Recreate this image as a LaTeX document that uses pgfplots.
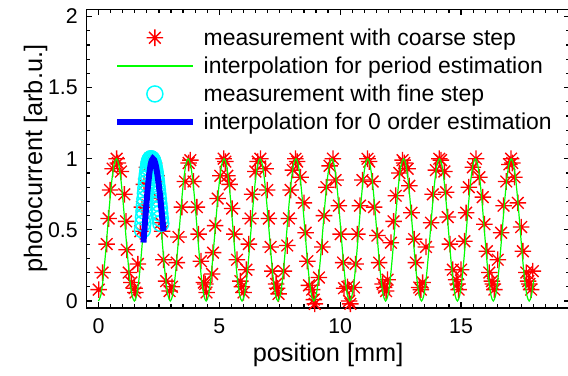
\documentclass[border=0pt]{standalone}
\usepackage{pgfplots}
\pgfplotsset{compat=1.18}
\usepackage{fontspec}
\setmainfont{Liberation Sans}

% eight-armed asterisk (plus and cross combined)
\pgfdeclareplotmark{mstar}{%
  \pgfpathmoveto{\pgfqpoint{-\pgfplotmarksize}{0pt}}%
  \pgfpathlineto{\pgfqpoint{\pgfplotmarksize}{0pt}}%
  \pgfpathmoveto{\pgfqpoint{0pt}{-\pgfplotmarksize}}%
  \pgfpathlineto{\pgfqpoint{0pt}{\pgfplotmarksize}}%
  \pgfpathmoveto{\pgfqpoint{-.7071\pgfplotmarksize}{-.7071\pgfplotmarksize}}%
  \pgfpathlineto{\pgfqpoint{.7071\pgfplotmarksize}{.7071\pgfplotmarksize}}%
  \pgfpathmoveto{\pgfqpoint{-.7071\pgfplotmarksize}{.7071\pgfplotmarksize}}%
  \pgfpathlineto{\pgfqpoint{.7071\pgfplotmarksize}{-.7071\pgfplotmarksize}}%
  \pgfusepathqstroke}

\definecolor{mred}{rgb}{1,0,0}
\definecolor{mgreen}{rgb}{0,1,0}
\definecolor{mcyan}{rgb}{0,1,1}
\definecolor{mblue}{rgb}{0,0,1}

\begin{document}
\begin{tikzpicture}
\useasboundingbox (-64.8pt,-50.2pt) rectangle (361.2pt,231.1pt);
\begin{axis}[
  at={(0,0)}, anchor=south west,
  scale only axis, width=362.55pt, height=224.1pt,
  xmin=-0.5, xmax=19.5, ymin=-0.05, ymax=2.05,
  xtick={0,5,10,15,20}, ytick={0,0.5,1,1.5,2},
  minor x tick num=9, minor y tick num=4,
  tick align=inside,
  major tick length=4.5pt, minor tick length=3pt,
  axis line style={line width=1.2pt},
  every tick/.style={black, line width=0.9pt},
  clip mode=individual,
  /pgf/number format/assume math mode=true,
  tick label style={font=\fontsize{16pt}{19pt}\selectfont},
  xticklabel style={anchor=north, inner sep=0pt, yshift=-7.8pt},
  yticklabel style={anchor=east, inner sep=0pt, xshift=-6.3pt},
  xlabel={position [mm]},
  ylabel={photocurrent [arb.u.]},
  label style={font=\fontsize{19pt}{23pt}\selectfont},
  xlabel style={at={(axis description cs:0.5,-0.177)}, anchor=base},
  ylabel style={at={(axis description cs:-0.0918,0.5)}, anchor=base, rotate=0},
  legend image code/.code={%
    \draw[mark repeat=2,mark phase=2] plot coordinates {(0pt,0pt) (28.4pt,0pt) (56.8pt,0pt)};},
  legend cell align=left,
  legend style={draw=none, fill=none, inner sep=0pt, outer sep=0pt,
    at={(axis description cs:0.0571,0.936)}, anchor=north west,
    font=\fontsize{17.2pt}{20pt}\selectfont,
    nodes={inner sep=0pt}, row sep=7.1pt,
    /tikz/every odd column/.append style={column sep=6pt}},
]

% coarse-step measurement
\addplot[only marks, mark=mstar, mark size=6.2pt, draw=mred,
  mark options={line width=1pt}] coordinates {
(0.01,0.08) (0.17,0.20) (0.34,0.40) (0.42,0.58) (0.48,0.78) (0.59,0.93)
(0.75,1.00) (0.80,0.97) (0.93,0.91) (1.07,0.75) (1.14,0.56) (1.17,0.36)
(1.25,0.20) (1.36,0.13) (1.49,0.09) (1.53,0.06) (1.63,0.26) (1.73,0.49)
(1.80,0.66) (1.88,0.82) (2.00,0.94) (2.15,1.00) (2.30,0.97) (2.40,0.88)
(2.48,0.72) (2.57,0.55) (2.63,0.49) (2.69,0.29) (2.80,0.14) (2.94,0.07)
(3.04,0.10) (3.24,0.27) (3.31,0.45) (3.45,0.66) (3.58,0.84) (3.73,0.97)
(3.80,0.99) (3.93,0.84) (4.07,0.66) (4.14,0.47) (4.24,0.28) (4.36,0.13)
(4.42,0.12) (4.47,0.06) (4.70,0.19) (4.74,0.34) (4.83,0.53) (4.93,0.72)
(5.04,0.88) (5.18,1.00) (5.25,0.98) (5.33,0.88) (5.43,0.82) (5.53,0.65)
(5.62,0.47) (5.73,0.29) (5.87,0.14) (5.93,0.10) (6.00,0.06) (6.12,0.22)
(6.22,0.40) (6.29,0.58) (6.36,0.75) (6.49,0.91) (6.59,0.98) (6.70,1.00)
(6.91,0.93) (6.98,0.78) (7.05,0.58) (7.12,0.38) (7.19,0.21) (7.35,0.12)
(7.39,0.09) (7.45,0.05) (7.67,0.21) (7.81,0.39) (7.88,0.58) (7.95,0.78)
(8.04,0.92) (8.15,1.00) (8.22,0.98) (8.36,0.87) (8.50,0.69) (8.57,0.48)
(8.64,0.28) (8.71,0.11) (8.84,0.08) (8.91,0.01) (8.95,-0.02) (9.12,0.165)
(9.26,0.38) (9.33,0.60) (9.43,0.80) (9.56,0.95) (9.70,1.00) (9.81,0.85)
(9.95,0.67) (10.02,0.47) (10.12,0.27) (10.16,0.09) (10.30,0.10) (10.37,0.00)
(10.42,-0.02) (10.57,0.095) (10.64,0.26) (10.71,0.47) (10.82,0.67) (10.92,0.85)
(11.13,1.00) (11.20,0.98) (11.34,0.84) (11.40,0.66) (11.54,0.46) (11.61,0.27)
(11.76,0.12) (11.82,0.095) (11.90,0.07) (11.96,0.15) (12.10,0.41) (12.21,0.56)
(12.30,0.74) (12.45,0.90) (12.58,0.99) (12.65,0.97) (12.79,0.93) (12.86,0.81)
(12.95,0.62) (13.06,0.435) (13.13,0.27) (13.27,0.095) (13.34,0.08) (13.41,0.13)
(13.55,0.38) (13.76,0.55) (13.83,0.75) (13.96,0.92) (14.10,1.00) (14.17,0.99)
(14.31,0.91) (14.38,0.765) (14.45,0.59) (14.54,0.40) (14.66,0.22) (14.80,0.15)
(14.86,0.12) (14.90,0.08) (15.00,0.22) (15.14,0.42) (15.21,0.62) (15.32,0.80)
(15.49,0.94) (15.62,1.00) (15.76,0.87) (15.90,0.73) (15.97,0.54) (16.07,0.35)
(16.17,0.20) (16.28,0.14) (16.32,0.12) (16.38,0.08) (16.52,0.29) (16.66,0.48)
(16.76,0.67) (16.87,0.84) (17.00,0.96) (17.07,1.00) (17.12,0.97) (17.21,0.87)
(17.35,0.69) (17.49,0.52) (17.56,0.35) (17.70,0.20) (17.78,0.14) (17.83,0.12)
(17.90,0.08) (17.97,0.21)
};
\addlegendentry{measurement with coarse step}

% sinusoidal interpolation, period 1.485 mm
\addplot[draw=mgreen, line width=0.9pt, smooth, tension=0.5,
  legend image code/.code={\draw[mgreen, line width=1.2pt] (0pt,0pt) -- (56.8pt,0pt);}]
  coordinates {
(0.000,0) (0.093,0.038) (0.186,0.146) (0.278,0.309) (0.371,0.5) (0.464,0.691) (0.557,0.854) (0.650,0.962)
(0.743,1) (0.835,0.962) (0.928,0.854) (1.021,0.691) (1.114,0.5) (1.207,0.309) (1.299,0.146) (1.392,0.038)
(1.485,0) (1.578,0.038) (1.671,0.146) (1.763,0.309) (1.856,0.5) (1.949,0.691) (2.042,0.854) (2.135,0.962)
(2.228,1) (2.320,0.962) (2.413,0.854) (2.506,0.691) (2.599,0.5) (2.692,0.309) (2.784,0.146) (2.877,0.038)
(2.970,0) (3.063,0.038) (3.156,0.146) (3.248,0.309) (3.341,0.5) (3.434,0.691) (3.527,0.854) (3.620,0.962)
(3.713,1) (3.805,0.962) (3.898,0.854) (3.991,0.691) (4.084,0.5) (4.177,0.309) (4.269,0.146) (4.362,0.038)
(4.455,0) (4.548,0.038) (4.641,0.146) (4.733,0.309) (4.826,0.5) (4.919,0.691) (5.012,0.854) (5.105,0.962)
(5.198,1) (5.290,0.962) (5.383,0.854) (5.476,0.691) (5.569,0.5) (5.662,0.309) (5.754,0.146) (5.847,0.038)
(5.940,0) (6.033,0.038) (6.126,0.146) (6.218,0.309) (6.311,0.5) (6.404,0.691) (6.497,0.854) (6.590,0.962)
(6.683,1) (6.775,0.962) (6.868,0.854) (6.961,0.691) (7.054,0.5) (7.147,0.309) (7.239,0.146) (7.332,0.038)
(7.425,0) (7.518,0.038) (7.611,0.146) (7.703,0.309) (7.796,0.5) (7.889,0.691) (7.982,0.854) (8.075,0.962)
(8.168,1) (8.260,0.962) (8.353,0.854) (8.446,0.691) (8.539,0.5) (8.632,0.309) (8.724,0.146) (8.817,0.038)
(8.910,0) (9.003,0.038) (9.096,0.146) (9.188,0.309) (9.281,0.5) (9.374,0.691) (9.467,0.854) (9.560,0.962)
(9.653,1) (9.745,0.962) (9.838,0.854) (9.931,0.691) (10.024,0.5) (10.117,0.309) (10.209,0.146) (10.302,0.038)
(10.395,0) (10.488,0.038) (10.581,0.146) (10.673,0.309) (10.766,0.5) (10.859,0.691) (10.952,0.854) (11.045,0.962)
(11.138,1) (11.230,0.962) (11.323,0.854) (11.416,0.691) (11.509,0.5) (11.602,0.309) (11.694,0.146) (11.787,0.038)
(11.880,0) (11.973,0.038) (12.066,0.146) (12.158,0.309) (12.251,0.5) (12.344,0.691) (12.437,0.854) (12.530,0.962)
(12.623,1) (12.715,0.962) (12.808,0.854) (12.901,0.691) (12.994,0.5) (13.087,0.309) (13.179,0.146) (13.272,0.038)
(13.365,0) (13.458,0.038) (13.551,0.146) (13.643,0.309) (13.736,0.5) (13.829,0.691) (13.922,0.854) (14.015,0.962)
(14.108,1) (14.200,0.962) (14.293,0.854) (14.386,0.691) (14.479,0.5) (14.572,0.309) (14.664,0.146) (14.757,0.038)
(14.850,0) (14.943,0.038) (15.036,0.146) (15.128,0.309) (15.221,0.5) (15.314,0.691) (15.407,0.854) (15.500,0.962)
(15.593,1) (15.685,0.962) (15.778,0.854) (15.871,0.691) (15.964,0.5) (16.057,0.309) (16.149,0.146) (16.242,0.038)
(16.335,0) (16.428,0.038) (16.521,0.146) (16.613,0.309) (16.706,0.5) (16.799,0.691) (16.892,0.854) (16.985,0.962)
(17.078,1) (17.170,0.962) (17.263,0.854) (17.356,0.691) (17.449,0.5) (17.542,0.309) (17.634,0.146) (17.727,0.038)
(17.820,0) (17.913,0.038) (18.006,0.146)
};
\addlegendentry{interpolation for period estimation}

% fine-step measurement around the second maximum
\addplot[only marks, mark=o, mark size=6pt, draw=mcyan,
  mark options={line width=1.1pt}] coordinates {
(1.82,0.500) (1.84,0.545) (1.86,0.590) (1.88,0.633) (1.90,0.676) (1.92,0.717)
(1.94,0.757) (1.96,0.794) (1.98,0.829) (2.00,0.861) (2.02,0.891) (2.04,0.917)
(2.06,0.940) (2.08,0.960) (2.10,0.976) (2.12,0.987) (2.14,0.995) (2.16,0.999)
(2.18,1.000) (2.20,0.997) (2.22,0.992) (2.24,0.984) (2.26,0.974) (2.28,0.961)
(2.30,0.946) (2.32,0.928) (2.34,0.909) (2.36,0.887) (2.38,0.863) (2.40,0.837)
(2.42,0.809) (2.44,0.780) (2.46,0.750) (2.48,0.718) (2.50,0.685) (2.52,0.651)
(2.54,0.616) (2.56,0.581) (2.58,0.545)
};
\addlegendentry{measurement with fine step}

% local fit of the maximum
\addplot[draw=mblue, line width=4.5pt, smooth] coordinates {
(1.86,0.411) (1.90,0.500) (1.95,0.611) (2.00,0.717) (2.05,0.811) (2.10,0.891)
(2.15,0.950) (2.20,0.987) (2.25,1.000) (2.30,0.992) (2.35,0.968) (2.40,0.928)
(2.45,0.875) (2.50,0.809) (2.55,0.734) (2.60,0.651) (2.65,0.563) (2.69,0.491)
};
\addlegendentry{interpolation for 0 order estimation}

\end{axis}
\end{tikzpicture}
\end{document}
